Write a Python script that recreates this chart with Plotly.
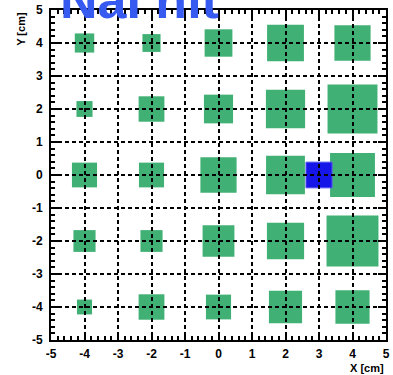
import plotly.graph_objects as go

# ---- data ----
grid_x = [-4, -2, 0, 2, 4]
grid_y = [4, 2, 0, -2, -4]
# box side length (cm) per cell, rows follow grid_y, columns follow grid_x
size_y4 = [0.58, 0.54, 0.83, 1.10, 1.08]
size_y2 = [0.48, 0.77, 0.87, 1.17, 1.49]
size_y0 = [0.75, 0.75, 1.08, 1.16, 1.34]
size_ym2 = [0.66, 0.66, 0.95, 1.11, 1.55]
size_ym4 = [0.45, 0.77, 0.75, 0.99, 1.02]
sizes = [size_y4, size_y2, size_y0, size_ym2, size_ym4]

hit_x = [3]
hit_y = [0]
hit_size = [0.78]

tick_vals = [-5, -4, -3, -2, -1, 0, 1, 2, 3, 4, 5]
tick_text = [str(v) for v in tick_vals]

GREEN = "rgb(64,176,116)"
BLUE = "rgb(22,22,232)"

fig = go.Figure()

shapes = []
for yi, row in zip(grid_y, sizes):
    for xi, s in zip(grid_x, row):
        shapes.append(dict(type="rect", xref="x", yref="y",
                           x0=xi - s / 2, x1=xi + s / 2,
                           y0=yi - s / 2, y1=yi + s / 2,
                           fillcolor=GREEN, line=dict(width=0), layer="below"))
for xi, yi, s in zip(hit_x, hit_y, hit_size):
    shapes.append(dict(type="rect", xref="x", yref="y",
                       x0=xi - s / 2, x1=xi + s / 2,
                       y0=yi - s / 2, y1=yi + s / 2,
                       fillcolor=BLUE, line=dict(width=1, color="rgb(90,90,240)"),
                       layer="below"))

axis_common = dict(
    range=[-5, 5], tickmode="array", tickvals=tick_vals, ticktext=tick_text,
    showgrid=True, gridcolor="black", gridwidth=1.6, griddash="4px,3px",
    zeroline=False, showline=True, linecolor="black", linewidth=2,
    mirror="ticks", ticks="inside", ticklen=8, tickwidth=2, tickcolor="black",
    minor=dict(dtick=0.2, ticks="inside", ticklen=4, tickwidth=1.5, tickcolor="black",
               showgrid=False),
    tickfont=dict(family="Liberation Sans", size=12, color="black", weight="bold"),
    fixedrange=True,
)

fig.update_layout(
    width=393, height=375,
    margin=dict(l=51, r=3, t=10, b=35),
    paper_bgcolor="white", plot_bgcolor="white",
    shapes=shapes,
    showlegend=False,
    xaxis=dict(**axis_common, ticklabelstandoff=2),
    yaxis=dict(**axis_common, ticklabelstandoff=4),
    annotations=[
        dict(text="NaI hit", xref="paper", yref="paper", x=0.02, y=0.936,
             xanchor="left", yanchor="bottom", showarrow=False,
             font=dict(family="Liberation Sans", size=52, color="rgb(55,90,240)",
                       weight="bold")),
        dict(text="Y [cm]", xref="paper", yref="paper", x=-0.09, y=1.0,
             xanchor="center", yanchor="top", textangle=-90, showarrow=False,
             font=dict(family="Liberation Sans", size=11, color="black", weight="bold")),
        dict(text="X [cm]", xref="paper", yref="paper", x=1.0, y=-0.062,
             xanchor="right", yanchor="top", showarrow=False,
             font=dict(family="Liberation Sans", size=11, color="black", weight="bold")),
    ],
)

fig.write_html("out.html")
